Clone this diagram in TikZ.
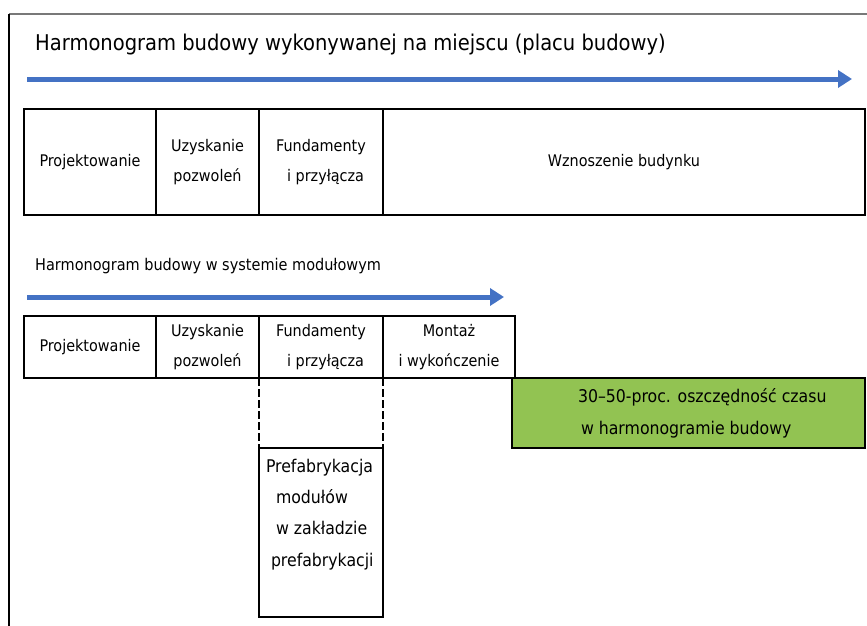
\documentclass[tikz,border=0pt]{standalone}
\usepackage{fontspec}
\setmainfont{DejaVu Sans Condensed}
\usetikzlibrary{arrows.meta}
\definecolor{flowblue}{RGB}{68,114,196}
\definecolor{savegreen}{RGB}{146,195,82}
\definecolor{framegray}{RGB}{120,120,120}
\begin{document}
\begin{tikzpicture}[x=1pt,y=-1pt,
  cell/.style={draw,line width=2.8pt,inner sep=0pt,outer sep=0pt,anchor=north west,
    align=center,font=\fontsize{16}{30}\selectfont},
  flow/.style={draw=flowblue,line width=5pt,-{Triangle[length=14pt,width=17pt]}},
  linkline/.style={line width=2.8pt,dash pattern=on 8pt off 3pt},
  heading/.style={anchor=west,inner sep=0pt}]
\useasboundingbox (0,0) rectangle (867,626);

% outer frame
\draw[framegray,line width=1.8pt] (9,14) -- (867,14);
\draw[line width=1.5pt] (9,14) -- (9,626);

% on-site schedule
\node[heading,font=\fontsize{21.7}{26}\selectfont] (title) at (35,45)
  {Harmonogram budowy wykonywanej na miejscu (placu budowy)};
\coordinate (a1s) at (27,79);
\coordinate (a1e) at (852,79);
\draw[flow] (a1s) -- (a1e);

\node[cell,minimum width=132,minimum height=106] (p1) at (24,109) {Projektowanie};
\node[cell,minimum width=103,minimum height=106] (u1) at (156,109) {Uzyskanie\\pozwoleń};
\node[cell,minimum width=124,minimum height=106] (f1) at (259,109) {Fundamenty\\\ \ i przyłącza};
\node[cell,minimum width=482,minimum height=106] (w1) at (383,109) {Wznoszenie budynku};

% modular schedule
\node[heading,font=\fontsize{16.1}{20}\selectfont] (subtitle) at (35,266)
  {Harmonogram budowy w systemie modułowym};
\coordinate (a2s) at (27,297);
\coordinate (a2e) at (504,297);
\draw[flow] (a2s) -- (a2e);

\node[cell,minimum width=132,minimum height=62] (p2) at (24,316) {Projektowanie};
\node[cell,minimum width=103,minimum height=62] (u2) at (156,316) {Uzyskanie\\pozwoleń};
\node[cell,minimum width=124,minimum height=62] (f2) at (259,316) {Fundamenty\\\ \ i przyłącza};
\node[cell,minimum width=132,minimum height=62] (m2) at (383,316) {Montaż\\i wykończenie};

% time saving
\node[cell,fill=savegreen,font=\fontsize{17.5}{32}\selectfont] (save) at (512,378)
  {\parbox[c][70pt][c]{353pt}{\raggedright
    \hspace*{66pt}30–50-proc. oszczędność czasu\\
    \hspace*{69pt}w harmonogramie budowy}};

% factory prefabrication
\node[cell,font=\fontsize{17.5}{31.3}\selectfont] (pre) at (259,448)
  {\parbox[t][169pt][t]{124pt}{\raggedright\vspace*{11pt}
    \hspace*{7pt}Prefabrykacja\\
    \hspace*{17pt}modułów\\
    \hspace*{17pt}w zakładzie\\
    \hspace*{12pt}prefabrykacji}};

\draw[linkline] (f2.south west) -- (pre.north west);
\draw[linkline] (f2.south east) -- (pre.north east);
\end{tikzpicture}
\end{document}
